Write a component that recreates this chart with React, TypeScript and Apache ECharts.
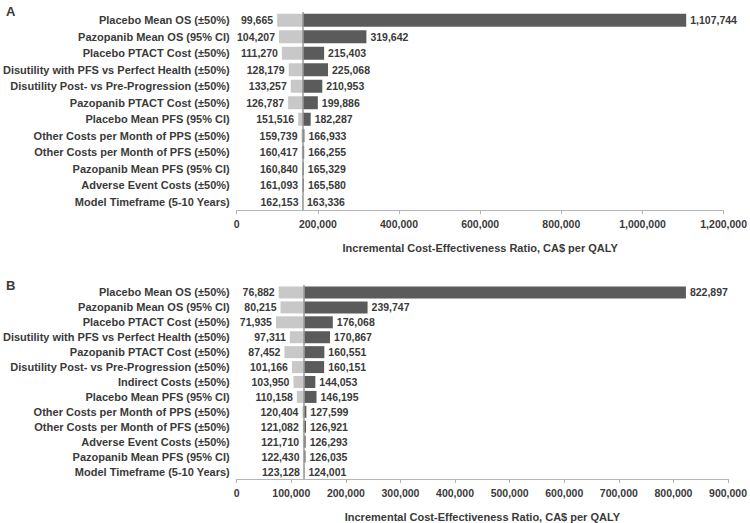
import React, { useEffect, useRef } from "react";
import * as echarts from "echarts";

const catsA = [
  "Placebo Mean OS (±50%)",
  "Pazopanib Mean OS (95% CI)",
  "Placebo PTACT Cost (±50%)",
  "Disutility with PFS vs Perfect Health (±50%)",
  "Disutility Post- vs Pre-Progression (±50%)",
  "Pazopanib PTACT Cost (±50%)",
  "Placebo Mean PFS (95% CI)",
  "Other Costs per Month of PPS (±50%)",
  "Other Costs per Month of PFS (±50%)",
  "Pazopanib Mean PFS (95% CI)",
  "Adverse Event Costs (±50%)",
  "Model Timeframe (5-10 Years)",
];
const lowA = [99665, 104207, 111270, 128179, 133257, 126787, 151516, 159739, 160417, 160840, 161093, 162153];
const highA = [1107744, 319642, 215403, 225068, 210953, 199886, 182287, 166933, 166255, 165329, 165580, 163336];
const baseA = 162745;

const catsB = [
  "Placebo Mean OS (±50%)",
  "Pazopanib Mean OS (95% CI)",
  "Placebo PTACT Cost (±50%)",
  "Disutility with PFS vs Perfect Health (±50%)",
  "Pazopanib PTACT Cost (±50%)",
  "Disutility Post- vs Pre-Progression (±50%)",
  "Indirect Costs (±50%)",
  "Placebo Mean PFS (95% CI)",
  "Other Costs per Month of PPS (±50%)",
  "Other Costs per Month of PFS (±50%)",
  "Adverse Event Costs (±50%)",
  "Pazopanib Mean PFS (95% CI)",
  "Model Timeframe (5-10 Years)",
];
const lowB = [76882, 80215, 71935, 97311, 87452, 101166, 103950, 110158, 120404, 121082, 121710, 122430, 123128];
const highB = [822897, 239747, 176068, 170867, 160551, 160151, 144053, 146195, 127599, 126921, 126293, 126035, 124001];
const baseB = 123500;

const axisTitle = "Incremental Cost-Effectiveness Ratio, CA$ per QALY";

const FONT = "'Liberation Sans', Arial, sans-serif";
const TXT = "#3a3a3a";
const LIGHT = "#c8c8c8";
const DARK = "#5b5b5b";

const fmt = (v: number) => v.toLocaleString("en-US");

function App() {
  const ref = useRef<HTMLDivElement>(null);
  useEffect(() => {
    if (!ref.current) return;
    const chart = echarts.init(ref.current, null, { renderer: "svg" });

    const makeSeries = (idx: number, lows: number[], highs: number[], base: number, barW: number) => [
      {
        type: "bar",
        xAxisIndex: idx,
        yAxisIndex: idx,
        stack: "s" + idx,
        barWidth: barW,
        silent: true,
        itemStyle: { color: "transparent" },
        data: lows,
      },
      {
        type: "bar",
        xAxisIndex: idx,
        yAxisIndex: idx,
        stack: "s" + idx,
        barWidth: barW,
        itemStyle: { color: LIGHT },
        label: {
          show: true,
          position: "left",
          distance: 4,
          fontFamily: FONT,
          fontWeight: "bold",
          fontSize: 10.5,
          color: TXT,
          formatter: (p: any) => fmt(lows[p.dataIndex]),
        },
        data: lows.map((l) => base - l),
      },
      {
        type: "bar",
        xAxisIndex: idx,
        yAxisIndex: idx,
        stack: "s" + idx,
        barWidth: barW,
        itemStyle: { color: DARK },
        label: {
          show: true,
          position: "right",
          distance: 4,
          fontFamily: FONT,
          fontWeight: "bold",
          fontSize: 10.5,
          color: TXT,
          formatter: (p: any) => fmt(highs[p.dataIndex]),
        },
        markLine: {
          silent: true,
          symbol: "none",
          label: { show: false },
          lineStyle: { color: "#9a9a9a", width: 1.5, type: "solid" },
          data: [{ xAxis: base }],
        },
        data: highs.map((h) => h - base),
      },
    ];

    const xAxisCommon = (max: number, interval: number) => ({
      type: "value",
      min: 0,
      max,
      interval,
      name: axisTitle,
      nameLocation: "middle",
      nameGap: 32,
      nameTextStyle: { fontFamily: FONT, fontWeight: "bold", fontSize: 11, color: TXT },
      splitLine: { show: false },
      axisLine: { show: true, lineStyle: { color: "#b5b5b5", width: 1 } },
      axisTick: { show: true, length: 4, lineStyle: { color: "#b5b5b5" } },
      axisLabel: {
        fontFamily: FONT,
        fontWeight: "bold",
        fontSize: 10.5,
        color: TXT,
        margin: 8,
        formatter: (v: number) => fmt(v),
      },
    });

    const yAxisCommon = (cats: string[]) => ({
      type: "category",
      inverse: true,
      data: cats,
      axisLine: { show: false },
      axisTick: { show: false },
      axisLabel: {
        fontFamily: FONT,
        fontWeight: "bold",
        fontSize: 11,
        color: TXT,
        margin: 7,
      },
    });

    chart.setOption({
      animation: false,
      backgroundColor: "#ffffff",
      textStyle: { fontFamily: FONT },
      title: [
        { text: "A", left: 1, top: 0, textStyle: { fontFamily: FONT, fontWeight: "bold", fontSize: 13, color: TXT } },
        { text: "B", left: 1, top: 274, textStyle: { fontFamily: FONT, fontWeight: "bold", fontSize: 13, color: TXT } },
      ],
      grid: [
        { left: 236, right: 26, top: 12, height: 198 },
        { left: 235, right: 21, top: 285, height: 199 },
      ],
      xAxis: [
        { ...xAxisCommon(1200000, 200000), gridIndex: 0 },
        { ...xAxisCommon(900000, 100000), gridIndex: 1 },
      ],
      yAxis: [
        { ...yAxisCommon(catsA), gridIndex: 0 },
        { ...yAxisCommon(catsB), gridIndex: 1 },
      ],
      series: [
        ...makeSeries(0, lowA, highA, baseA, 13),
        ...makeSeries(1, lowB, highB, baseB, 12),
      ],
    } as any);

    return () => chart.dispose();
  }, []);

  return (
    <div
      ref={ref}
      style={{ position: "fixed", left: 0, top: 0, width: 750, height: 523, background: "#fff" }}
    />
  );
}

export default App;
